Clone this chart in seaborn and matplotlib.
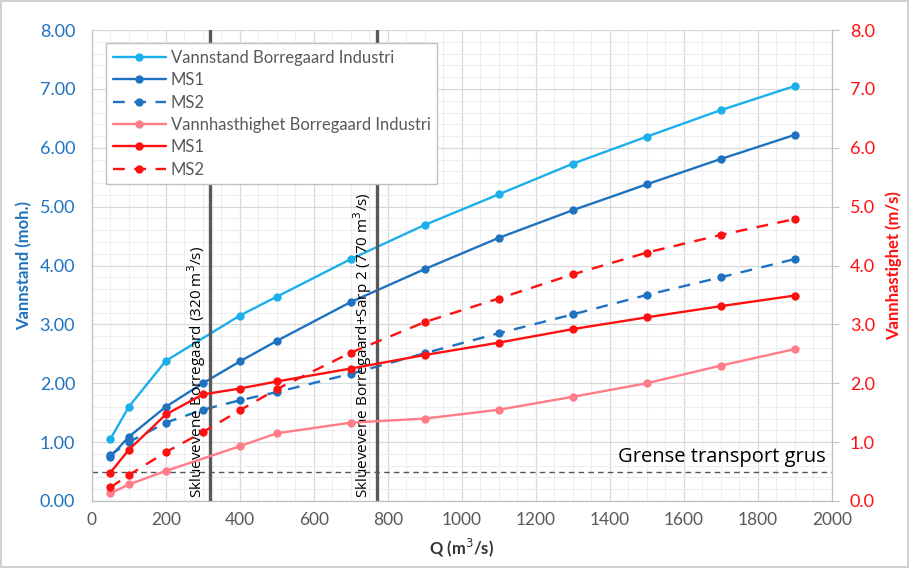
import numpy as np
import pandas as pd
import seaborn as sns
import matplotlib.pyplot as plt
from matplotlib.ticker import MultipleLocator, FormatStrFormatter

# data
q_full = [50, 100, 200, 300, 400, 500, 700, 900, 1100, 1300, 1500, 1700, 1900]
q_bi = [50, 100, 200, 400, 500, 700, 900, 1100, 1300, 1500, 1700, 1900]

vannstand_bi = [1.05, 1.60, 2.38, 3.15, 3.47, 4.11, 4.69, 5.21, 5.73, 6.19, 6.64, 7.05]
vannstand_ms1 = [0.75, 1.09, 1.60, 2.00, 2.37, 2.72, 3.38, 3.94, 4.47, 4.94, 5.38, 5.81, 6.22]
vannstand_ms2 = [0.78, 1.00, 1.33, 1.55, 1.71, 1.85, 2.16, 2.51, 2.85, 3.17, 3.50, 3.80, 4.11]

hastighet_bi = [0.13, 0.28, 0.51, 0.93, 1.15, 1.33, 1.40, 1.55, 1.77, 2.00, 2.30, 2.58]
hastighet_ms1 = [0.48, 0.87, 1.47, 1.81, 1.91, 2.03, 2.25, 2.48, 2.69, 2.92, 3.12, 3.31, 3.49]
hastighet_ms2 = [0.23, 0.44, 0.83, 1.17, 1.54, 1.90, 2.52, 3.04, 3.44, 3.85, 4.22, 4.52, 4.79]

grense = 0.5
sluser = [320, 770]
sluse_labels = ["Skluevevene Borregaard (320 m$^3$/s)",
                "Skluevevene Borregaard+Sarp 2 (770 m$^3$/s)"]

c_lightblue = "#1cb0ea"
c_blue = "#1f72c0"
c_pink = "#ff7c88"
c_red = "#ff1010"

sns.set_style("white")
plt.rcParams['font.family'] = ['Lato', 'DejaVu Sans']

fig = plt.figure(figsize=(9.09, 5.68), dpi=100, edgecolor="#d0d0d0", linewidth=1.5)
ax = fig.add_axes([0.101, 0.118, 0.814, 0.829])
ax2 = ax.twinx()

ms = 6
sns.lineplot(x=q_bi, y=vannstand_bi, ax=ax, color=c_lightblue, marker="o", markersize=ms,
             markeredgewidth=0, lw=1.7, label="Vannstand Borregaard Industri", legend=False)
sns.lineplot(x=q_full, y=vannstand_ms1, ax=ax, color=c_blue, marker="o", markersize=ms,
             markeredgewidth=0, lw=1.7, label="MS1", legend=False)
sns.lineplot(x=q_full, y=vannstand_ms2, ax=ax, color=c_blue, marker="o", markersize=ms,
             markeredgewidth=0, lw=1.7, linestyle=(0, (5, 4)), label="MS2", legend=False)

sns.lineplot(x=q_bi, y=hastighet_bi, ax=ax2, color=c_pink, marker="o", markersize=ms,
             markeredgewidth=0, lw=1.7, label="Vannhasthighet Borregaard Industri", legend=False)
sns.lineplot(x=q_full, y=hastighet_ms1, ax=ax2, color=c_red, marker="o", markersize=ms,
             markeredgewidth=0, lw=1.7, label="MS1", legend=False)
sns.lineplot(x=q_full, y=hastighet_ms2, ax=ax2, color=c_red, marker="o", markersize=ms,
             markeredgewidth=0, lw=1.7, linestyle=(0, (5, 4)), label="MS2", legend=False)

# limit for gravel transport
ax.axhline(grense, color="#555555", lw=1, linestyle=(0, (4, 3)), zorder=1)
ax.text(1985, grense + 0.08, "Grense transport grus", ha="right", va="bottom",
        fontsize=14.5, color="black", family=['Open Sans', 'DejaVu Sans'])

# sluice capacity lines
for xq, txt in zip(sluser, sluse_labels):
    ax.axvline(xq, color="#595959", lw=2.4, zorder=3)
    ax.text(xq - 6, 0.05, txt, rotation=90, ha="right", va="bottom",
            fontsize=11, color="black", family=['Open Sans', 'DejaVu Sans'])

ax.set_xlim(0, 2000)
ax.set_ylim(0, 8)
ax2.set_ylim(0, 8)
ax.xaxis.set_major_locator(MultipleLocator(200))
ax.xaxis.set_minor_locator(MultipleLocator(50))
ax.yaxis.set_major_locator(MultipleLocator(1))
ax.yaxis.set_minor_locator(MultipleLocator(0.2))
ax2.yaxis.set_major_locator(MultipleLocator(1))
ax.yaxis.set_major_formatter(FormatStrFormatter("%.2f"))
ax2.yaxis.set_major_formatter(FormatStrFormatter("%.1f"))

ax.grid(which="major", color="#d9d9d9", lw=0.9)
ax.grid(which="minor", color="#eeeeee", lw=0.8)
ax.set_axisbelow(True)
ax2.grid(False)

for a in (ax, ax2):
    for s in a.spines.values():
        s.set_color("#bfbfbf")
    a.spines["top"].set_visible(False)

ax.tick_params(axis="x", colors="#595959", labelsize=12.5, length=0, pad=8)
ax.tick_params(axis="y", which="both", length=0, labelsize=13, labelcolor=c_blue, pad=12)
ax2.tick_params(axis="y", length=5, color="#bfbfbf", labelsize=13, labelcolor=c_red, pad=8)

ax.set_xlabel("Q (m$^3$/s)", fontsize=12, fontweight="bold", color="#333333", labelpad=6)
ax.set_ylabel("Vannstand (moh.)", fontsize=12, fontweight="bold", color=c_blue, labelpad=5)
ax2.set_ylabel("Vannhastighet (m/s)", fontsize=12, fontweight="bold", color=c_red, labelpad=8)

h1, l1 = ax.get_legend_handles_labels()
h2, l2 = ax2.get_legend_handles_labels()
leg = ax2.legend(h1 + h2, l1 + l2, loc="upper left", bbox_to_anchor=(0.019, 0.972),
                 borderaxespad=0, fontsize=12, frameon=True, fancybox=False,
                 edgecolor="#bfbfbf", framealpha=1, handlelength=3.2, borderpad=0.4,
                 labelspacing=0.38, handletextpad=0.3)
for t in leg.get_texts():
    t.set_color("#595959")
leg.set_zorder(10)

fig.savefig("out.png", dpi=100)
